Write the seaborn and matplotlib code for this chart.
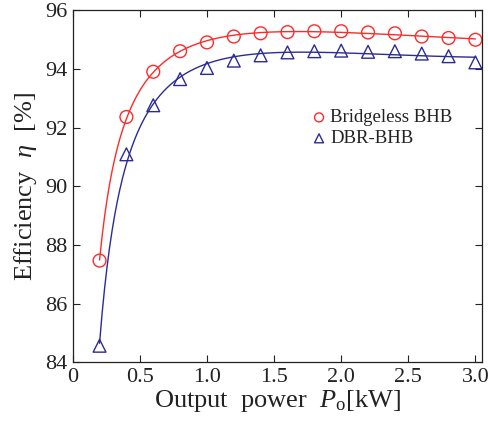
import numpy as np
import pandas as pd
import matplotlib
matplotlib.use("Agg")
import matplotlib.pyplot as plt
import seaborn as sns

power = [0.2, 0.4, 0.6, 0.8, 1.0, 1.2, 1.4, 1.6, 1.8, 2.0, 2.2, 2.4, 2.6, 2.8, 3.0]
eff_bridgeless = [87.47, 92.36, 93.90, 94.60, 94.90, 95.10, 95.21, 95.25, 95.28, 95.28, 95.24, 95.21, 95.10, 95.05, 94.99]
eff_dbr = [84.57, 91.09, 92.76, 93.65, 94.03, 94.28, 94.46, 94.56, 94.60, 94.62, 94.58, 94.60, 94.52, 94.43, 94.22]
series_names = ["Bridgeless BHB", "DBR-BHB"]
colors = ["#ff2a2a", "#2b2b98"]
markers = ["o", "^"]
xticks = [0, 0.5, 1.0, 1.5, 2.0, 2.5, 3.0]
xticklabels = ["0", "0.5", "1.0", "1.5", "2.0", "2.5", "3.0"]
yticks = [84, 86, 88, 90, 92, 94, 96]

sns.set_theme(style="ticks")
plt.rcParams["font.family"] = ["Liberation Serif", "DejaVu Serif"]
plt.rcParams["mathtext.fontset"] = "custom"
plt.rcParams["mathtext.it"] = "Liberation Serif:italic"
plt.rcParams["mathtext.rm"] = "Liberation Serif"

fig = plt.figure(figsize=(4.88, 4.21), dpi=100)
ax = fig.add_axes([0.149, 0.139, 0.839, 0.837])

p = np.array(power)
pf = np.linspace(p.min(), p.max(), 300)
w = 1.0 / p
for name, vals, c, m in zip(series_names, [eff_bridgeless, eff_dbr], colors, markers):
    eta = np.array(vals) / 100.0
    loss = p * (1 / eta - 1)
    coef = np.polyfit(p, loss, 3, w=w)
    lf = np.polyval(coef, pf)
    curve = pd.DataFrame({"x": pf, "y": 100 * pf / (pf + lf)})
    sns.lineplot(data=curve, x="x", y="y", ax=ax, color=c, lw=1.0, legend=False)
    pts = pd.DataFrame({"x": power, "y": vals})
    sns.scatterplot(data=pts, x="x", y="y", ax=ax, marker=m, s=85,
                    facecolor="none", edgecolor=c, linewidth=1.0, label=name, zorder=3)

ax.set_xlim(0, 3.05)
ax.set_ylim(84, 96)
ax.set_xticks(xticks)
ax.set_xticklabels(xticklabels)
ax.set_yticks(yticks)
ax.tick_params(direction="in", top=True, right=True, length=5, width=0.8,
               labelsize=16, colors="#222222", pad=4)
for s in ax.spines.values():
    s.set_linewidth(0.9)
    s.set_color("#222222")
ax.set_xlabel(r"Output  power  $P_{\mathrm{o}}$[kW]", fontsize=19, labelpad=1)
ax.set_ylabel(r"Efficiency  $\eta$  [%]", fontsize=19, labelpad=4)
for t in (ax.xaxis.label, ax.yaxis.label):
    t.set_color("#222222")

leg = ax.legend(loc="upper left", bbox_to_anchor=(0.565, 0.74), frameon=False,
                fontsize=13.5, handletextpad=0.2, borderaxespad=0, labelspacing=0.2,
                handlelength=0.8, markerscale=0.7)
for t in leg.get_texts():
    t.set_color("#222222")

fig.savefig("out.png", dpi=100)
